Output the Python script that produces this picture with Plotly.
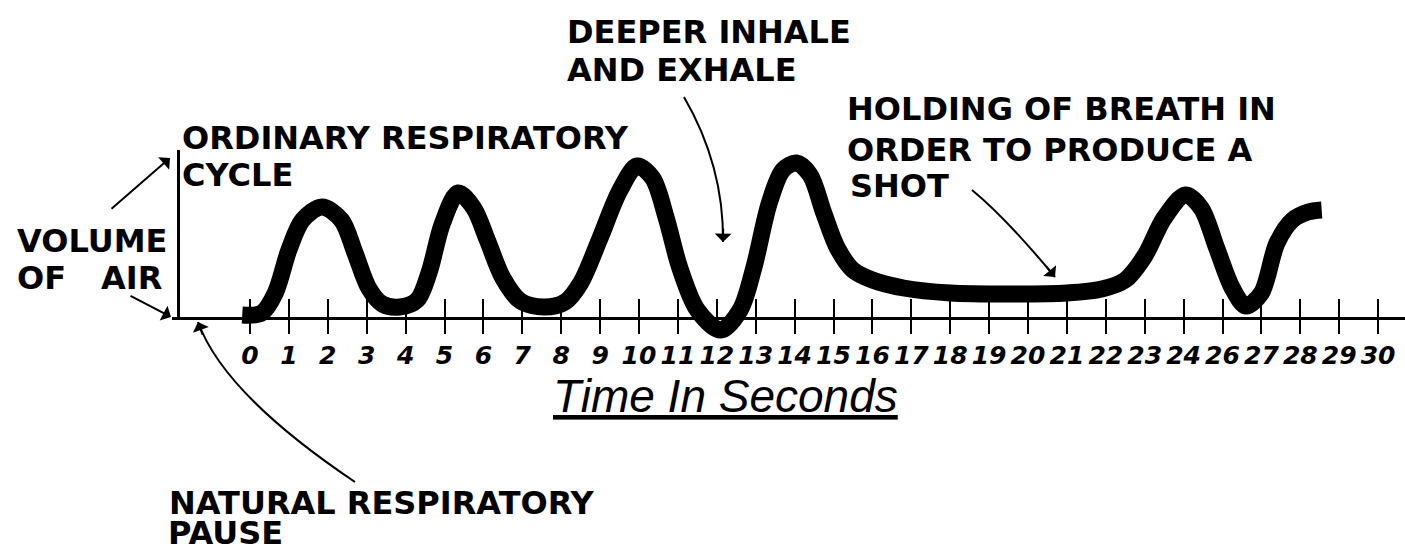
import plotly.graph_objects as go

W, H = 1405, 553

# ---- data ----------------------------------------------------------------
# evenly spaced time ticks and the labels printed under them (25 is skipped)
tick_pos = list(range(30))
tick_text = [str(i) for i in range(25)] + ["26", "27", "28", "29", "30"]

# breathing trace: time (tick position) and relative volume of air
time_s = [-0.2, 0.3, 0.65, 1.0, 1.35, 1.85, 2.35, 2.7, 3.05, 3.4, 3.85,
          4.3, 4.6, 4.95, 5.35, 5.75, 6.1, 6.5, 6.95, 7.55, 8.1, 8.5,
          9.0, 9.5, 9.95, 10.35, 10.7, 11.05, 11.5, 12.1, 12.6, 12.95,
          13.35, 13.7, 14.05, 14.4, 14.75, 15.1, 15.5, 16.0, 16.8, 18.0,
          19.5, 21.0, 21.9, 22.5, 23.0, 23.5, 24.05, 24.45, 24.85, 25.25,
          25.6, 26.0, 26.4, 26.8, 27.2, 27.55]
volume = [3, 5, 25, 68, 98, 111, 98, 65, 30, 14, 11,
          18, 45, 95, 125, 110, 78, 40, 17, 11, 16, 35,
          80, 127, 152, 140, 100, 50, 8, -12, 8, 50,
          115, 148, 155, 143, 105, 70, 48, 38, 30, 25,
          24, 25, 29, 38, 62, 100, 123, 110, 70, 30,
          12, 25, 75, 98, 106, 108]

# text labels: (text, left px, cap-top px)
label_lines = [
    ("DEEPER INHALE", 568, 19), ("AND EXHALE", 568, 57),
    ("ORDINARY RESPIRATORY", 183, 125), ("CYCLE", 183, 162),
    ("HOLDING OF BREATH IN", 848, 96), ("ORDER TO PRODUCE A", 848, 137),
    ("SHOT", 851, 173),
    ("VOLUME", 18, 228), ("OF", 18, 265), ("AIR", 102, 265),
    ("NATURAL RESPIRATORY", 170, 490),
]
bottom_line = ("PAUSE", 170)
x_title = "Time In Seconds"

# ---- layout geometry -------------------------------------------------------
AXIS_Y = 318          # pixel row of the time axis
ORIGIN_X = 250        # pixel column of tick "0"
STEP = 38.9           # pixels per tick
X_LEFT = 172
YAX_X = 178
YAX_TOP = 150


def fx(x):
    return x / W


def fy(y):
    return 1 - y / H


x_range = [(X_LEFT - ORIGIN_X) / STEP, (W - ORIGIN_X) / STEP]
y_range = [AXIS_Y - H, AXIS_Y]

fig = go.Figure()

fig.add_trace(go.Scatter(
    x=time_s, y=volume, mode="lines",
    line=dict(color="black", width=17, shape="spline", smoothing=0.9),
    hoverinfo="skip", showlegend=False, xaxis="x", yaxis="y"))
# invisible copies so the helper axes are rendered
fig.add_trace(go.Scatter(
    x=time_s, y=volume, mode="lines", line=dict(width=0), opacity=0,
    hoverinfo="skip", showlegend=False, xaxis="x2", yaxis="y"))
fig.add_trace(go.Scatter(
    x=time_s, y=volume, mode="lines", line=dict(width=0), opacity=0,
    hoverinfo="skip", showlegend=False, xaxis="x", yaxis="y2"))

tick_font = dict(family="DejaVu Sans", size=25, color="black",
                 weight="bold", style="italic")

fig.update_layout(
    width=W, height=H,
    margin=dict(l=0, r=0, t=0, b=0),
    paper_bgcolor="white", plot_bgcolor="rgba(0,0,0,0)",
    showlegend=False,
    xaxis=dict(
        domain=[X_LEFT / W, 1], range=x_range, anchor="free",
        position=fy(AXIS_Y), side="bottom",
        showline=True, linecolor="black", linewidth=3,
        tickmode="array", tickvals=tick_pos, ticktext=tick_text,
        ticks="outside", ticklen=14, tickwidth=2, tickcolor="black",
        tickfont=tick_font, showgrid=False, zeroline=False,
        fixedrange=True,
    ),
    xaxis2=dict(
        domain=[X_LEFT / W, 1], range=x_range, anchor="free",
        position=fy(AXIS_Y), side="top", overlaying="x",
        showline=False, tickmode="array", tickvals=tick_pos,
        ticks="outside", ticklen=19, tickwidth=2, tickcolor="black",
        showticklabels=False, showgrid=False, zeroline=False,
    ),
    yaxis=dict(domain=[0, 1], range=y_range, visible=False,
               anchor="free", position=0),
    yaxis2=dict(domain=[fy(AXIS_Y), fy(YAX_TOP)], range=[0, AXIS_Y - YAX_TOP],
                anchor="free", position=fx(YAX_X), showline=True,
                linecolor="black", linewidth=3, ticks="",
                showticklabels=False, showgrid=False, zeroline=False),
)

label_font = dict(family="DejaVu Sans", size=32, color="black", weight="bold")
annotations = []
for text, left, cap_top in label_lines:
    annotations.append(dict(
        text=text, xref="paper", yref="paper", x=fx(left - 3),
        y=fy(cap_top - 8), xanchor="left", yanchor="top",
        showarrow=False, font=label_font))
annotations.append(dict(
    text=bottom_line[0], xref="paper", yref="paper",
    x=fx(bottom_line[1] - 3), y=0, xanchor="left", yanchor="bottom",
    borderpad=0, showarrow=False, font=label_font))

annotations.append(dict(
    text=x_title, xref="paper", yref="paper", x=fx(551), y=fy(378 - 10),
    xanchor="left", yanchor="top", showarrow=False,
    font=dict(family="Liberation Sans", size=46, color="black",
              style="italic", lineposition="under")))

# straight arrows (tip, tail offset in px)
arrows = [
    ((170, 158), (-60, 52)),
    ((171, 317), (-42, -22)),
]
# curved arrows: start, control, end
curves = [
    ((355, 482), (224, 394), (198, 322)),
    ((684, 97), (724, 166), (723, 242)),
    ((972, 190), (1006, 218), (1055, 277)),
]

for (tx, ty), (ax, ay) in arrows:
    annotations.append(dict(
        text="", xref="paper", yref="paper", x=fx(tx), y=fy(ty),
        ax=ax, ay=ay, showarrow=True, arrowhead=1, arrowsize=1.4,
        arrowwidth=2, arrowcolor="black", standoff=0))

shapes = []
for (x0, y0), (cx, cy), (x1, y1) in curves:
    path = "M {:.5f},{:.5f} Q {:.5f},{:.5f} {:.5f},{:.5f}".format(
        fx(x0), fy(y0), fx(cx), fy(cy), fx(x1), fy(y1))
    shapes.append(dict(type="path", xref="paper", yref="paper", path=path,
                       line=dict(color="black", width=2)))
    dx, dy = x1 - cx, y1 - cy
    n = (dx * dx + dy * dy) ** 0.5
    L = 15
    annotations.append(dict(
        text="", xref="paper", yref="paper", x=fx(x1), y=fy(y1),
        ax=-dx / n * L, ay=-dy / n * L, showarrow=True, arrowhead=1,
        arrowsize=1.4, arrowwidth=2, arrowcolor="black", standoff=0))

fig.update_layout(annotations=annotations, shapes=shapes)

fig.write_html(
    "out.html",
    config={"displayModeBar": False, "staticPlot": True},
    post_script="document.body.style.margin='0px';"
                "document.body.style.overflow='hidden';")
